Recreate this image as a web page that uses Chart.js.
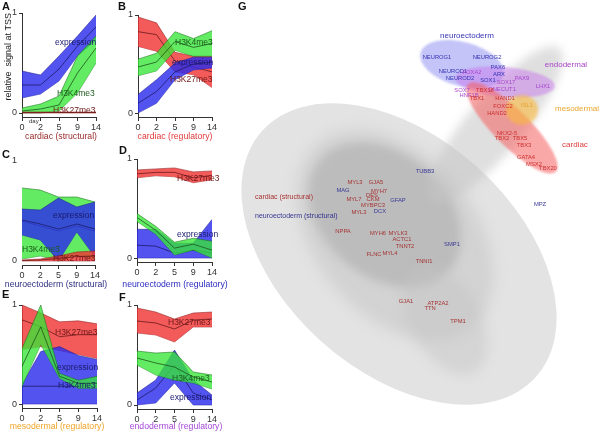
<!DOCTYPE html>
<html lang="en">
<head>
<meta charset="UTF-8">
<title>Histone marks at TSS over differentiation and gene map</title>
<script src="https://cdn.jsdelivr.net/npm/chart.js"></script>
<style>
    body { margin: 0; background: #fff; font-family: "Liberation Sans", Arial, sans-serif; }
    #figure { position: relative; width: 600px; height: 432px; overflow: hidden; }
    #figure canvas { position: absolute; }
    .letter { position: absolute; font-weight: bold; font-size: 11px; color: #111; z-index: 3; }
    .lab { position: absolute; font-size: 8.5px; line-height: 10px; white-space: nowrap; z-index: 3; }
    .xt { position: absolute; font-size: 8.7px; line-height: 10px; white-space: nowrap; z-index: 3; transform: translateX(-50%); }
    .expr { color: #1a1a6e; }
    .k4 { color: #1b5a1b; }
    .k27 { color: #6e1717; }
</style>
</head>
<body>
<div id="figure">
    <canvas id="chartA" width="115" height="140" style="left:0;top:0"></canvas>
    <canvas id="chartB" width="115" height="140" style="left:115px;top:0"></canvas>
    <canvas id="chartC" width="115" height="148" style="left:0;top:140px"></canvas>
    <canvas id="chartD" width="115" height="148" style="left:115px;top:140px"></canvas>
    <canvas id="chartE" width="115" height="152" style="left:0;top:280px"></canvas>
    <canvas id="chartF" width="115" height="152" style="left:115px;top:280px"></canvas>
    <canvas id="chartG" width="360" height="432" style="left:240px;top:0"></canvas>

    <div class="letter" style="left:2px;top:0">A</div>
    <div class="letter" style="left:118px;top:0">B</div>
    <div class="letter" style="left:2px;top:148px">C</div>
    <div class="letter" style="left:119px;top:144px">D</div>
    <div class="letter" style="left:2px;top:288px">E</div>
    <div class="letter" style="left:119px;top:291px">F</div>
    <div class="letter" style="left:238px;top:0">G</div>

    <div class="lab" style="left:29px;top:116px;font-size:6px;color:#333">day</div>

    <div class="xt" style="left:61px;top:131px;color:#9a2a2a">cardiac (structural)</div>
    <div class="xt" style="left:175px;top:131px;color:#e23a3a">cardiac (regulatory)</div>
    <div class="xt" style="left:56px;top:279px;color:#2e2e80">neuroectoderm (structural)</div>
    <div class="xt" style="left:175px;top:279px;color:#2a2ac0">neuroectoderm (regulatory)</div>
    <div class="xt" style="left:57px;top:421px;color:#f0a428">mesodermal (regulatory)</div>
    <div class="xt" style="left:176px;top:421px;color:#a548d8">endodermal (regulatory)</div>

    <div class="lab expr" style="left:55px;top:37px">expression</div>
    <div class="lab k4" style="left:57px;top:88px">H3K4me3</div>
    <div class="lab k27" style="left:53px;top:105px">H3K27me3</div>

    <div class="lab k4" style="left:175px;top:37px">H3K4me3</div>
    <div class="lab expr" style="left:172px;top:57px">expression</div>
    <div class="lab k27" style="left:170px;top:74px">H3K27me3</div>

    <div class="lab expr" style="left:53px;top:210px">expression</div>
    <div class="lab k4" style="left:22px;top:244px">H3K4me3</div>
    <div class="lab k27" style="left:53px;top:253px">H3K27me3</div>

    <div class="lab k27" style="left:177px;top:173px">H3K27me3</div>
    <div class="lab expr" style="left:177px;top:229px">expression</div>

    <div class="lab k27" style="left:55px;top:327px">H3K27me3</div>
    <div class="lab expr" style="left:57px;top:362px">expression</div>
    <div class="lab expr" style="left:58px;top:380px">H3K4me3</div>

    <div class="lab k27" style="left:168px;top:317px">H3K27me3</div>
    <div class="lab k4" style="left:172px;top:373px">H3K4me3</div>
    <div class="lab expr" style="left:170px;top:392px">expression</div>
</div>

<script>
    const days = ['0', '2', '5', '9', '14'];

    // A: cardiac (structural)
    const aExprLow  = [0.15, 0.19, 0.32, 0.57, 0.73];
    const aExprMid  = [0.28, 0.28, 0.44, 0.67, 0.86];
    const aExprHigh = [0.42, 0.38, 0.57, 0.77, 0.98];
    const aK4Low  = [0.00, 0.00, 0.02, 0.20, 0.50];
    const aK4Mid  = [0.02, 0.04, 0.08, 0.40, 0.65];
    const aK4High = [0.05, 0.09, 0.17, 0.57, 0.77];
    const aK27Low  = [0.00, 0.00, 0.00, 0.00, 0.00];
    const aK27Mid  = [0.005, 0.005, 0.005, 0.005, 0.005];
    const aK27High = [0.01, 0.01, 0.01, 0.01, 0.01];

    // B: cardiac (regulatory)
    const bK27Low  = [0.68, 0.63, 0.42, 0.39, 0.26];
    const bK27Mid  = [0.83, 0.80, 0.53, 0.47, 0.42];
    const bK27High = [0.98, 0.92, 0.62, 0.58, 0.58];
    const bK4Low  = [0.38, 0.43, 0.64, 0.58, 0.58];
    const bK4Mid  = [0.47, 0.52, 0.73, 0.67, 0.71];
    const bK4High = [0.55, 0.61, 0.83, 0.76, 0.84];
    const bExprLow  = [0.00, 0.10, 0.34, 0.44, 0.46];
    const bExprMid  = [0.10, 0.22, 0.42, 0.50, 0.52];
    const bExprHigh = [0.19, 0.34, 0.51, 0.57, 0.57];

    // C: neuroectoderm (structural)
    const cK4Low  = [0.02, 0.05, 0.00, 0.05, 0.02];
    const cK4Mid  = [0.40, 0.35, 0.30, 0.35, 0.30];
    const cK4High = [0.73, 0.71, 0.64, 0.64, 0.59];
    const cExprLow  = [0.26, 0.21, 0.00, 0.29, 0.04];
    const cExprMid  = [0.41, 0.37, 0.32, 0.37, 0.32];
    const cExprHigh = [0.52, 0.51, 0.63, 0.54, 0.59];
    const cK27Low  = [0.00, 0.00, 0.00, 0.00, 0.00];
    const cK27Mid  = [0.005, 0.01, 0.025, 0.045, 0.05];
    const cK27High = [0.01, 0.02, 0.05, 0.09, 0.10];

    // D: neuroectoderm (regulatory)
    const dExprLow  = [0.00, 0.00, 0.00, 0.00, 0.00];
    const dExprMid  = [0.13, 0.12, 0.05, 0.08, 0.05];
    const dExprHigh = [0.29, 0.29, 0.15, 0.15, 0.39];
    const dK4Low  = [0.37, 0.24, 0.03, 0.08, 0.00];
    const dK4Mid  = [0.41, 0.28, 0.10, 0.14, 0.08];
    const dK4High = [0.45, 0.32, 0.16, 0.20, 0.17];
    const dK27Low  = [0.81, 0.83, 0.82, 0.76, 0.79];
    const dK27Mid  = [0.85, 0.865, 0.865, 0.81, 0.835];
    const dK27High = [0.89, 0.90, 0.91, 0.87, 0.88];

    // E: mesodermal (regulatory)
    const eK27Low  = [0.55, 0.58, 0.54, 0.50, 0.46];
    const eK27Mid  = [0.85, 0.78, 0.68, 0.70, 0.70];
    const eK27High = [1.00, 0.92, 0.83, 0.84, 0.81];
    const eExprLow  = [0.00, 0.00, 0.00, 0.00, 0.00];
    const eExprMid  = [0.18, 0.18, 0.18, 0.18, 0.18];
    const eExprHigh = [0.20, 0.53, 0.58, 0.49, 0.45];
    const eK4Low  = [0.18, 0.60, 0.26, 0.16, 0.16];
    const eK4Mid  = [0.38, 0.78, 0.28, 0.21, 0.21];
    const eK4High = [0.56, 1.00, 0.31, 0.24, 0.28];

    // F: endodermal (regulatory)
    const fK27Low  = [0.72, 0.70, 0.63, 0.78, 0.78];
    const fK27Mid  = [0.84, 0.82, 0.76, 0.85, 0.86];
    const fK27High = [0.97, 0.93, 0.86, 0.92, 0.93];
    const fExprLow  = [0.00, 0.02, 0.22, 0.00, 0.00];
    const fExprMid  = [0.05, 0.17, 0.40, 0.12, 0.05];
    const fExprHigh = [0.12, 0.25, 0.55, 0.25, 0.10];
    const fK4Low  = [0.40, 0.30, 0.25, 0.22, 0.16];
    const fK4Mid  = [0.47, 0.42, 0.38, 0.28, 0.23];
    const fK4High = [0.54, 0.52, 0.53, 0.33, 0.30];

    // G: map of genes (arbitrary embedding units)
    const regionNames = ['background', 'halo', 'core', 'stream', 'tail', 'neuroectoderm', 'endodermal', 'cardiac', 'mesodermal'];
    const regionCx    = [2.650, 2.583, 2.417, 4.250, 3.417, 3.700, 4.417, 4.533, 4.700];
    const regionCy    = [2.967, 3.283, 3.617, 5.117, 1.867, 6.133, 5.833, 5.067, 5.367];
    const regionA     = [3.067, 2.000, 1.417, 1.667, 1.000, 0.717, 0.833, 1.033, 0.267];
    const regionB     = [1.950, 1.333, 1.033, 0.467, 0.583, 0.367, 0.250, 0.300, 0.250];
    const regionAngle = [-42, -50, -40, 50, -60, -15, -5, -45, 0];

    const titleTexts = ['neuroectoderm', 'endodermal', 'mesodermal', 'cardiac', 'cardiac (structural)', 'neuroectoderm (structural)'];
    const titleX = [3.783, 5.433, 5.617, 5.583, 0.250, 0.250];
    const titleY = [6.600, 6.117, 5.383, 4.783, 3.917, 3.600];

    const neuroRegNames = ['NEUROG1', 'NEUROG2', 'PAX6', 'NEUROD1', 'NEUROD2', 'ARX', 'SOX1'];
    const neuroRegX = [3.283, 4.117, 4.300, 3.550, 3.667, 4.317, 4.133];
    const neuroRegY = [6.250, 6.250, 6.083, 6.017, 5.900, 5.967, 5.867];

    const endoNames = ['FOXA2', 'SOX17', 'PAX9', 'LHX1', 'SOX7', 'ONECUT1', 'HNF1B'];
    const endoX = [3.867, 4.433, 4.700, 5.050, 3.700, 4.367, 3.817];
    const endoY = [6.000, 5.833, 5.900, 5.767, 5.700, 5.717, 5.617];

    const mesoNames = ['ISL1'];
    const mesoX = [4.783];
    const mesoY = [5.450];

    const cardRegNames = ['TBX1', 'TBX18', 'HAND1', 'FOXC2', 'HAND2', 'NKX2-5', 'TBX2', 'TBX5', 'TBX3', 'GATA4', 'MSX2', 'TBX20'];
    const cardRegX = [3.950, 4.083, 4.417, 4.383, 4.283, 4.450, 4.367, 4.667, 4.733, 4.767, 4.900, 5.133];
    const cardRegY = [5.567, 5.700, 5.567, 5.433, 5.317, 4.983, 4.900, 4.900, 4.783, 4.583, 4.467, 4.400];

    const cardStrNames = ['MYL3', 'GJA5', 'MYH7', 'DES', 'MYL7', 'CKM', 'MYBPC3', 'MYL3', 'NPPA', 'MYH6', 'MYLK3', 'ACTC1', 'TNNT2', 'FLNC', 'MYL4', 'TNNI1', 'GJA1', 'ATP2A2', 'TTN', 'TPM1'];
    const cardStrX = [1.917, 2.267, 2.317, 2.200, 1.900, 2.217, 2.217, 1.983, 1.717, 2.300, 2.633, 2.700, 2.750, 2.233, 2.500, 3.067, 2.767, 3.300, 3.167, 3.633];
    const cardStrY = [4.167, 4.167, 4.017, 3.950, 3.883, 3.883, 3.783, 3.667, 3.350, 3.317, 3.317, 3.217, 3.100, 2.967, 2.983, 2.850, 2.183, 2.150, 2.067, 1.850];

    const neuroStrNames = ['TUBB3', 'MAG', 'GFAP', 'DCX', 'SMP1', 'MPZ'];
    const neuroStrX = [3.083, 1.717, 2.633, 2.333, 3.533, 5.000];
    const neuroStrY = [4.350, 4.033, 3.867, 3.683, 3.133, 3.800];

    // ---------- styles ----------
    const family = '"Liberation Sans", Arial, sans-serif';
    const markStyle = {
        expr: { fill: 'rgba(45,45,235,0.82)', edge: 'rgba(30,30,140,0.9)', mid: '#1c1c6a' },
        k4:   { fill: 'rgba(55,230,55,0.78)', edge: 'rgba(25,110,25,0.9)', mid: '#1d551d' },
        k27:  { fill: 'rgba(240,55,55,0.82)', edge: 'rgba(140,30,30,0.9)', mid: '#6a1a1a' }
    };
    const regionFill = {
        background: '#e3e3e3',
        halo: 'rgba(190,190,190,0.45)',
        core: 'rgba(165,165,165,0.5)',
        stream: 'rgba(196,196,196,0.55)',
        tail: 'rgba(196,196,196,0.45)',
        neuroectoderm: 'rgba(125,125,240,0.45)',
        endodermal: 'rgba(200,120,235,0.5)',
        cardiac: 'rgba(245,95,95,0.55)',
        mesodermal: 'rgba(250,185,60,0.6)'
    };
    const regionBlur = { halo: 7, core: 5, stream: 5, tail: 6, neuroectoderm: 1, endodermal: 1, cardiac: 1, mesodermal: 1.5 };
    const titleColors = ['#3535b5', '#a845c8', '#eaa52e', '#e03c3c', '#a83232', '#34348e'];
    const titleSizes = [8, 8, 8, 8, 7, 7];

    // one band = lower edge, upper edge filled down to it, centre line
    function band(low, mid, high, style, layer) {
        const base = (10 - layer) * 3;
        return [
            { data: low, borderColor: style.edge, borderWidth: 0.6, pointRadius: 0, fill: false, order: base + 2 },
            { data: high, borderColor: style.edge, borderWidth: 0.6, pointRadius: 0, backgroundColor: style.fill, fill: '-1', order: base + 1 },
            { data: mid, borderColor: style.mid, borderWidth: 0.8, pointRadius: 0, fill: false, order: base }
        ];
    }

    function makePanel(id, layers, opt) {
        let datasets = [];
        layers.forEach((l, i) => { datasets = datasets.concat(band(l[0], l[1], l[2], markStyle[l[3]], i)); });

        return new Chart(document.getElementById(id), {
            type: 'line',
            data: { labels: days, datasets: datasets },
            options: {
                responsive: false,
                animation: false,
                devicePixelRatio: 1,
                elements: { line: { tension: 0 } },
                layout: { padding: { left: 0, right: opt.right, top: opt.top, bottom: 0 } },
                plugins: { legend: { display: false }, tooltip: { enabled: false } },
                scales: {
                    x: {
                        type: 'category',
                        offset: false,
                        grid: { display: true, drawOnChartArea: false, drawTicks: true, tickLength: 4, color: '#333' },
                        border: { display: true, color: '#333', width: 1 },
                        ticks: { color: '#333', font: { size: 9, family }, padding: 1, maxRotation: 0, autoSkip: false },
                        afterFit: s => { s.height = opt.xHeight; }
                    },
                    y: {
                        min: -0.04,
                        max: 1,
                        afterBuildTicks: s => { s.ticks = [{ value: 0 }, { value: 1 }]; },
                        grid: { display: opt.yBorder, drawOnChartArea: false, drawTicks: true, tickLength: 3, color: '#333' },
                        border: { display: opt.yBorder, color: '#333', width: 1 },
                        ticks: { color: '#333', font: { size: 9, family }, padding: 2 },
                        title: opt.yTitle
                            ? { display: true, text: opt.yTitle, color: '#222', align: 'end', font: { size: 9, family }, padding: { top: 3, bottom: 0 } }
                            : { display: false },
                        afterFit: s => { s.width = opt.yWidth; }
                    }
                }
            }
        });
    }

    makePanel('chartA', [
        [aExprLow, aExprMid, aExprHigh, 'expr'],
        [aK4Low, aK4Mid, aK4High, 'k4'],
        [aK27Low, aK27Mid, aK27High, 'k27']
    ], { yTitle: 'relative  signal at TSS', yWidth: 22, right: 19, top: 13, xHeight: 23, yBorder: true });

    makePanel('chartB', [
        [bK27Low, bK27Mid, bK27High, 'k27'],
        [bK4Low, bK4Mid, bK4High, 'k4'],
        [bExprLow, bExprMid, bExprHigh, 'expr']
    ], { yWidth: 23, right: 18, top: 15, xHeight: 23, yBorder: true });

    makePanel('chartC', [
        [cK4Low, cK4Mid, cK4High, 'k4'],
        [cExprLow, cExprMid, cExprHigh, 'expr'],
        [cK27Low, cK27Mid, cK27High, 'k27']
    ], { yWidth: 22, right: 20, top: 21, xHeight: 23, yBorder: false });

    makePanel('chartD', [
        [dExprLow, dExprMid, dExprHigh, 'expr'],
        [dK4Low, dK4Mid, dK4High, 'k4'],
        [dK27Low, dK27Mid, dK27High, 'k27']
    ], { yWidth: 22, right: 18, top: 19, xHeight: 26, yBorder: true });

    makePanel('chartE', [
        [eK27Low, eK27Mid, eK27High, 'k27'],
        [eExprLow, eExprMid, eExprHigh, 'expr'],
        [eK4Low, eK4Mid, eK4High, 'k4']
    ], { yWidth: 22, right: 18, top: 25, xHeight: 24, yBorder: true });

    makePanel('chartF', [
        [fK27Low, fK27Mid, fK27High, 'k27'],
        [fExprLow, fExprMid, fExprHigh, 'expr'],
        [fK4Low, fK4Mid, fK4High, 'k4']
    ], { yWidth: 22, right: 18, top: 25, xHeight: 23, yBorder: true });

    // ---------- panel G ----------
    function points(xs, ys) { return xs.map((x, i) => ({ x: x, y: ys[i] })); }

    const geneGroups = [
        { names: neuroRegNames, data: points(neuroRegX, neuroRegY), color: '#3434b4' },
        { names: endoNames, data: points(endoX, endoY), color: '#a848cc' },
        { names: cardRegNames, data: points(cardRegX, cardRegY), color: '#cc3030' },
        { names: mesoNames, data: points(mesoX, mesoY), color: '#e8a030' },
        { names: cardStrNames, data: points(cardStrX, cardStrY), color: '#a63434' },
        { names: neuroStrNames, data: points(neuroStrX, neuroStrY), color: '#383896' }
    ];

    const regionPlugin = {
        id: 'regions',
        beforeDatasetsDraw(chart) {
            const { ctx, scales: { x, y } } = chart;
            const pxPerUnit = x.width / (x.max - x.min);
            regionNames.forEach((name, i) => {
                ctx.save();
                if (regionBlur[name]) ctx.filter = 'blur(' + regionBlur[name] + 'px)';
                ctx.beginPath();
                ctx.ellipse(x.getPixelForValue(regionCx[i]), y.getPixelForValue(regionCy[i]),
                    regionA[i] * pxPerUnit, regionB[i] * pxPerUnit, -regionAngle[i] * Math.PI / 180, 0, Math.PI * 2);
                ctx.fillStyle = regionFill[name];
                ctx.fill();
                ctx.restore();
            });
        },
        afterDatasetsDraw(chart) {
            const { ctx, scales: { x, y } } = chart;
            ctx.save();
            ctx.textBaseline = 'middle';
            // gene names at their points
            chart.data.datasets.forEach((ds, di) => {
                const meta = chart.getDatasetMeta(di);
                ctx.fillStyle = ds.color;
                ctx.font = '5.8px ' + family;
                ctx.textAlign = 'center';
                meta.data.forEach((pt, i) => ctx.fillText(ds.names[i], pt.x, pt.y));
            });
            // group titles
            titleTexts.forEach((t, i) => {
                ctx.fillStyle = titleColors[i];
                ctx.font = titleSizes[i] + 'px ' + family;
                ctx.textAlign = i >= 4 ? 'left' : 'center';
                ctx.fillText(t, x.getPixelForValue(titleX[i]), y.getPixelForValue(titleY[i]));
            });
            ctx.restore();
        }
    };

    new Chart(document.getElementById('chartG'), {
        type: 'scatter',
        data: {
            datasets: geneGroups.map(g => ({ data: g.data, names: g.names, color: g.color, pointRadius: 0 }))
        },
        options: {
            responsive: false,
            animation: false,
            devicePixelRatio: 1,
            layout: { padding: 0 },
            plugins: { legend: { display: false }, tooltip: { enabled: false } },
            scales: {
                x: { display: false, min: 0, max: 6 },
                y: { display: false, min: 0, max: 7.2 }
            }
        },
        plugins: [regionPlugin]
    });
</script>
</body>
</html>
